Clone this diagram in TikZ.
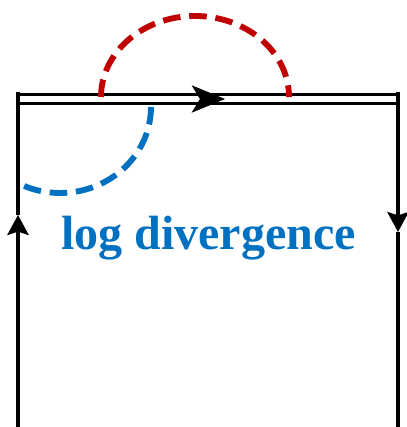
\documentclass[tikz,border=0pt]{standalone}
\usepackage{fontspec}
\setmainfont{Liberation Serif}
\usepackage{tikz}
\usetikzlibrary{arrows.meta}

\definecolor{loopred}{HTML}{C00000}
\definecolor{logblue}{HTML}{0070C0}

\begin{document}
\begin{tikzpicture}[
    x=0.03cm,
    y=0.03cm,
    % Estilos de las líneas
    wilson/.style={line width=2.6pt, black},
    flow/.style={-{Stealth[length=0.6cm, width=0.64cm, inset=0.1cm]}},
    double wilson/.style={line width=2.6pt, draw=black, double=white, double distance=5pt},
    gluon/.style={line width=5pt, dash pattern=on 15pt off 7.5pt}
]
    \useasboundingbox (0,0) rectangle (406,427);

    % --- 1. PUNTOS DEL CONTORNO ---
    \coordinate (BL) at (18,0);
    \coordinate (TL) at (18,334.5);
    \coordinate (BR) at (398,0);
    \coordinate (TR) at (398,334.5);
    \coordinate (dL) at (18,328);
    \coordinate (dR) at (398,328);
    \coordinate (upL) at (18,212);
    \coordinate (downR) at (398,195);
    \coordinate (midA) at (200,328);
    \coordinate (midB) at (225,328);

    % --- 2. LÍNEA DOBLE SUPERIOR ---
    \draw[double wilson] (dL) -- (dR);
    \draw[line width=0.5pt, -{Stealth[length=1cm, width=0.82cm, inset=0.25cm]}] (midA) -- (midB);

    % --- 3. LÍNEAS VERTICALES ---
    \draw[wilson, flow] (BL) -- (upL);
    \draw[wilson] (upL) -- (TL);
    \draw[wilson, flow] (TR) -- (downR);
    \draw[wilson] (downR) -- (BR);

    % --- 4. ARCOS DISCONTINUOS ---
    \draw[gluon, loopred] (101,330) arc[start angle=180, end angle=0, x radius=94, y radius=81];
    \draw[gluon, logblue] (151,320) arc[start angle=0, end angle=-114, x radius=91, y radius=86];

    % --- 5. ETIQUETA ---
    \node[anchor=base, text=logblue, font=\bfseries\fontsize{41}{41}\selectfont, inner sep=0pt] (label) at (208.5,177) {log divergence};

\end{tikzpicture}
\end{document}
